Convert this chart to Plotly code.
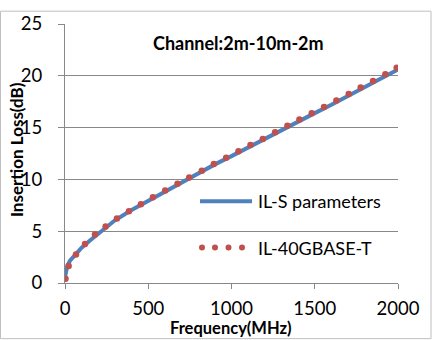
import plotly.graph_objects as go

# IL-S parameters (solid blue line)
freq_s = [0, 5, 15, 30, 60, 100, 150, 200, 250, 300, 400, 500, 600, 700, 800, 900,
          1000, 1100, 1200, 1300, 1400, 1500, 1600, 1700, 1800, 1900, 2000]
il_s = [0.6, 1.2, 1.7, 2.15, 2.7, 3.4, 4.1, 4.75, 5.4, 6.05, 7.05, 7.95, 8.85, 9.75, 10.6, 11.45,
        12.25, 13.1, 13.9, 14.75, 15.6, 16.4, 17.2, 18.05, 18.9, 19.75, 20.6]

# IL-40GBASE-T (red dotted)
freq_40g = [3, 22, 66, 120, 180, 244, 312, 384, 456, 528, 602, 676, 746, 822, 894, 968,
            1042, 1114, 1188, 1262, 1336, 1408, 1482, 1556, 1630, 1704, 1776, 1850, 1924, 1992]
il_40g = [0.4, 1.64, 2.75, 3.76, 4.68, 5.46, 6.22, 6.93, 7.59, 8.28, 8.92, 9.58, 10.18, 10.84, 11.48, 12.08,
          12.71, 13.31, 13.90, 14.54, 15.18, 15.78, 16.38, 16.98, 17.61, 18.24, 18.88, 19.50, 20.14, 20.78]

x_ticks = [0, 500, 1000, 1500, 2000]
y_ticks = [0, 5, 10, 15, 20, 25]

title_text = "Channel:2m-10m-2m"
x_title = "Frequency(MHz)"
y_title = "Insertion Loss(dB)"
names = ["IL-S parameters", "IL-40GBASE-T"]

BLUE = "#4F81BD"
RED = "#C0504D"
FONT = "Lato, 'Open Sans', sans-serif"

fig = go.Figure()
fig.add_trace(go.Scatter(x=freq_s, y=il_s, mode="lines", name=names[0],
                         line=dict(color=BLUE, width=4), showlegend=False))
fig.add_trace(go.Scatter(x=freq_40g, y=il_40g, mode="markers", name=names[1],
                         marker=dict(color=RED, size=6.5), showlegend=False))

W, H = 435, 340
ml, mr, mt, mb = 65, 37, 20, 57
pw, ph = W - ml - mr, H - mt - mb

def px(x):
    return (x - ml) / pw

def py(y):
    return (H - mb - y) / ph

shapes = []
# outer chart frame
shapes.append(dict(type="rect", xref="paper", yref="paper",
                   x0=px(0.5), x1=px(431), y0=py(339.5), y1=py(7),
                   line=dict(color="#BFBFBF", width=1), fillcolor="rgba(0,0,0,0)", layer="below"))
# legend samples
shapes.append(dict(type="line", xref="paper", yref="paper",
                   x0=px(200), x1=px(252), y0=py(200), y1=py(200),
                   line=dict(color=BLUE, width=4)))
for cx in [202, 215, 228.5, 242]:
    r = 3
    shapes.append(dict(type="circle", xref="paper", yref="paper",
                       x0=px(cx - r), x1=px(cx + r), y0=py(247 + r), y1=py(247 - r),
                       line=dict(color=RED, width=0), fillcolor=RED))

annotations = [
    dict(text="<b>" + title_text + "</b>", xref="paper", yref="paper",
         x=px(238.5), y=py(39.5), showarrow=False, font=dict(size=18, color="#000", family=FONT),
         xanchor="center", yanchor="middle"),
    dict(text=names[0], xref="paper", yref="paper", x=px(256), y=py(200), showarrow=False,
         xanchor="left", yanchor="middle", font=dict(size=18, color="#000", family=FONT)),
    dict(text=names[1], xref="paper", yref="paper", x=px(256), y=py(247), showarrow=False,
         xanchor="left", yanchor="middle", font=dict(size=18, color="#000", family=FONT)),
    dict(text="<b>" + x_title + "</b>", xref="paper", yref="paper",
         x=px(231), y=py(328.5), showarrow=False, font=dict(size=16.5, color="#000", family=FONT),
         xanchor="center", yanchor="middle"),
    dict(text="<b>" + y_title + "</b>", xref="paper", yref="paper", textangle=-90,
         x=px(16), y=py(148), showarrow=False, font=dict(size=17, color="#000", family=FONT),
         xanchor="center", yanchor="middle"),
]

fig.update_layout(
    width=W, height=H,
    margin=dict(l=ml, r=mr, t=mt, b=mb, pad=0),
    paper_bgcolor="white", plot_bgcolor="white",
    font=dict(family=FONT, size=18, color="#000"),
    shapes=shapes, annotations=annotations,
    xaxis=dict(range=[0, 2000], tickvals=x_ticks, ticktext=[str(v) for v in x_ticks],
               showgrid=False, zeroline=False, showline=True, linecolor="#888", linewidth=1,
               ticks="outside", ticklen=5, tickcolor="#888", ticklabelstandoff=4,
               tickfont=dict(size=18.5, family=FONT)),
    yaxis=dict(range=[0, 25], tickvals=y_ticks, ticktext=[str(v) for v in y_ticks],
               showgrid=True, gridcolor="#888", gridwidth=1, zeroline=False,
               showline=True, linecolor="#888", linewidth=1,
               ticks="outside", ticklen=6, tickcolor="#888", ticklabelstandoff=12,
               tickfont=dict(size=18.5, family=FONT)),
)

fig.write_html("out.html")
